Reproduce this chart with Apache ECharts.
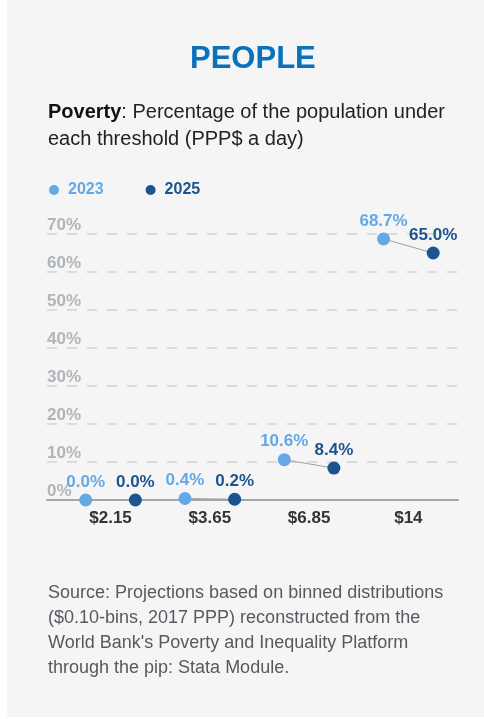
<!DOCTYPE html>
<html>
<head>
<meta charset="utf-8">
<script src="https://cdn.jsdelivr.net/npm/echarts@6/dist/echarts.min.js"></script>
<style>
  html, body { margin: 0; padding: 0; background: #ffffff; }
  #panel { position: absolute; left: 7px; top: 0; width: 477px; height: 717px; background: #f5f5f5; }
  #chart { position: absolute; left: 0; top: 0; width: 484px; height: 719px; }
</style>
</head>
<body>
<div id="panel"></div>
<div id="chart"></div>
<script>
// thresholds (PPP$ a day)
var categories = ['$2.15', '$3.65', '$6.85', '$14'];
// poverty rates, % of population
var values2023 = [0.0, 0.4, 10.6, 68.7];
var values2025 = [0.0, 0.2, 8.4, 65.0];
var yTicks = [0, 10, 20, 30, 40, 50, 60, 70];

var color23 = '#64a9e6';
var color25 = '#1c5490';
var font = "'Liberation Sans', Arial, Helvetica, sans-serif";
var offset = 0.25; // shift of each year's dot around the category

var pts23 = values2023.map(function (v, i) { return [i - offset, v]; });
var pts25 = values2025.map(function (v, i) { return [i + offset, v]; });
var links = [];
categories.forEach(function (c, i) {
  links.push(pts23[i], pts25[i], [i, '-']);
});

var chart = echarts.init(document.getElementById('chart'), null, { renderer: 'canvas' });

function pointLabel(col) {
  return {
    show: true,
    position: 'top',
    distance: 3,
    color: col,
    fontFamily: font,
    fontWeight: 'bold',
    fontSize: 17,
    formatter: function (p) { return p.value[1].toFixed(1) + '%'; }
  };
}

var option = {
  backgroundColor: 'transparent',
  animation: false,
  title: [
    {
      text: 'PEOPLE',
      left: 190, top: 44, padding: 0,
      textStyle: { color: '#0a72bb', fontFamily: font, fontWeight: 'bold', fontSize: 31 }
    },
    {
      text: '{b|Poverty}: Percentage of the population under\neach threshold (PPP$ a day)',
      left: 48, top: 99, padding: 0,
      textStyle: {
        color: '#222222', fontFamily: font, fontSize: 20, fontWeight: 'normal', lineHeight: 27,
        rich: { b: { fontFamily: font, fontWeight: 'bold', fontSize: 20, color: '#111111', lineHeight: 27 } }
      }
    },
    {
      text: "Source: Projections based on binned distributions\n($0.10-bins, 2017 PPP) reconstructed from the\nWorld Bank's Poverty and Inequality Platform\nthrough the pip: Stata Module.",
      left: 48, top: 581, padding: 0,
      textStyle: { color: '#555a60', fontFamily: font, fontSize: 18, fontWeight: 'normal', lineHeight: 25 }
    }
  ],
  legend: {
    left: 44, top: 177,
    icon: 'circle',
    itemWidth: 18, itemHeight: 10, itemGap: 42,
    selectedMode: false,
    textStyle: { fontFamily: font, fontWeight: 'bold', fontSize: 16 },
    data: [
      { name: '2023', textStyle: { color: color23 } },
      { name: '2025', textStyle: { color: color25 } }
    ]
  },
  grid: { left: 47, right: 26, top: 234, bottom: 219, containLabel: false },
  xAxis: {
    type: 'value',
    min: -0.64, max: 3.5,
    splitLine: { show: false },
    axisTick: { show: false },
    axisLine: { show: true, lineStyle: { color: '#a3a7ab', width: 2 } },
    axisLabel: {
      customValues: [0, 1, 2, 3],
      formatter: function (v) { return categories[Math.round(v)]; },
      color: '#333333', fontFamily: font, fontWeight: 'bold', fontSize: 17, margin: 10
    }
  },
  yAxis: {
    type: 'value',
    min: 0, max: 70, interval: 10,
    axisLine: { show: false },
    axisTick: { show: false },
    splitLine: { show: true, lineStyle: { color: '#dcdcdc', width: 2, type: [10, 10] } },
    axisLabel: {
      inside: true, margin: 0,
      verticalAlign: 'bottom', align: 'left', padding: [0, 0, 0, 0],
      color: '#b0b5ba', fontFamily: font, fontWeight: 'bold', fontSize: 17,
      formatter: function (v) { return yTicks.indexOf(v) >= 0 ? v + '%' : ''; }
    }
  },
  series: [
    {
      name: 'link', type: 'line', data: links,
      symbol: 'none', silent: true, z: 1,
      connectNulls: false,
      lineStyle: { color: '#a0a0a0', width: 1 }
    },
    {
      name: '2023', type: 'scatter', data: pts23, z: 3,
      symbolSize: 13, itemStyle: { color: color23, opacity: 1 },
      label: pointLabel(color23)
    },
    {
      name: '2025', type: 'scatter', data: pts25, z: 3,
      symbolSize: 13, itemStyle: { color: color25, opacity: 1 },
      label: pointLabel(color25)
    }
  ]
};

chart.setOption(option);
</script>
</body>
</html>
